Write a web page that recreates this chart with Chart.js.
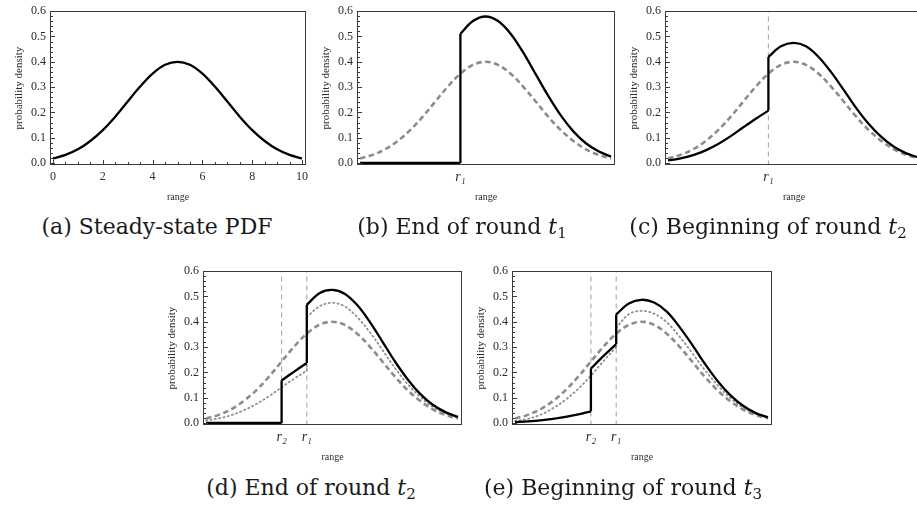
<!DOCTYPE html>
<html>
<head>
	<meta charset="utf-8">
	<title>Probability density across rounds</title>
	<script src="https://cdn.jsdelivr.net/npm/chart.js@4.4.1/dist/chart.umd.min.js"></script>
	<style type="text/css">
	body{
		margin: 0;
		width: 917px;
		height: 507px;
		overflow: hidden;
		position: relative;
		background-color: #fff;
	}
	canvas{
		position: absolute;
	}
	.caption{
		position: absolute;
		transform: translateX(-50%);
		font-family: "DejaVu Serif", "Liberation Serif", serif;
		font-size: 22px;
		line-height: 24px;
		color: #1a1a1a;
		white-space: nowrap;
	}
	.caption sub{
		font-size: 15px;
		vertical-align: -4px;
		line-height: 0;
	}
	</style>
</head>
<body>
	<canvas id="pa" width="316" height="210" style="left:0px;top:0px"></canvas>
	<canvas id="pb" width="318" height="210" style="left:307px;top:0px"></canvas>
	<canvas id="pc" width="318" height="210" style="left:615px;top:0px"></canvas>
	<canvas id="pd" width="319" height="210" style="left:153px;top:260px"></canvas>
	<canvas id="pe" width="320" height="210" style="left:462px;top:260px"></canvas>

	<div class="caption" style="left:157px;top:215px">(a) Steady-state PDF</div>
	<div class="caption" style="left:462px;top:215px">(b) End of round <i>t</i><sub>1</sub></div>
	<div class="caption" style="left:768px;top:215px">(c) Beginning of round <i>t</i><sub>2</sub></div>
	<div class="caption" style="left:311px;top:476px">(d) End of round <i>t</i><sub>2</sub></div>
	<div class="caption" style="left:623px;top:476px">(e) Beginning of round <i>t</i><sub>3</sub></div>

	<script type="text/javascript">
	// --- data ---
	var range = [0, 0.5, 1, 1.5, 2, 2.5, 3, 3.5, 4, 4.5, 5, 5.5, 6, 6.5, 7, 7.5, 8, 8.5, 9, 9.5, 10];
	var steadyState = [0.018, 0.032, 0.054, 0.087, 0.130, 0.183, 0.243, 0.302, 0.353, 0.388, 0.400,
		0.388, 0.353, 0.302, 0.243, 0.183, 0.130, 0.087, 0.054, 0.032, 0.018];

	var r1 = 4;
	var r2 = 3;

	// [range, density]; a repeated range value is a jump
	var endT1 = [[0, 0], [4, 0], [4, 0.511], [4.5, 0.561], [5, 0.579], [5.5, 0.561], [6, 0.511], [6.5, 0.437],
		[7, 0.351], [7.5, 0.265], [8, 0.188], [8.5, 0.125], [9, 0.078], [9.5, 0.046], [10, 0.025]];

	var beginT2 = [[0, 0.010], [0.5, 0.018], [1, 0.031], [1.5, 0.050], [2, 0.075], [2.5, 0.106], [3, 0.141],
		[3.5, 0.175], [4, 0.207], [4, 0.419], [4.5, 0.461], [5, 0.475], [5.5, 0.461], [6, 0.419], [6.5, 0.359],
		[7, 0.289], [7.5, 0.217], [8, 0.154], [8.5, 0.103], [9, 0.064], [9.5, 0.038], [10, 0.021]];

	var endT2 = [[0, 0], [3, 0], [3, 0.168], [3.5, 0.203], [4, 0.237], [4, 0.467], [4.5, 0.513], [5, 0.526],
		[5.5, 0.511], [6, 0.466], [6.5, 0.400], [7, 0.322], [7.5, 0.243], [8, 0.173], [8.5, 0.115], [9, 0.072],
		[9.5, 0.043], [10, 0.024]];

	var beginT3Ref = [[0, 0.008], [0.5, 0.016], [1, 0.032], [1.5, 0.058], [2, 0.092], [2.5, 0.135], [3, 0.187],
		[3.5, 0.245], [4, 0.300], [4, 0.376], [4.5, 0.430], [5, 0.443], [5.5, 0.432], [6, 0.398], [6.5, 0.342],
		[7, 0.277], [7.5, 0.210], [8, 0.150], [8.5, 0.100], [9, 0.062], [9.5, 0.036], [10, 0.020]];

	var beginT3 = [[0, 0.003], [0.5, 0.006], [1, 0.010], [1.5, 0.016], [2, 0.024], [2.5, 0.034], [3, 0.046],
		[3, 0.215], [3.5, 0.265], [4, 0.312], [4, 0.429], [4.5, 0.472], [5, 0.487], [5.5, 0.476], [6, 0.440],
		[6.5, 0.380], [7, 0.310], [7.5, 0.235], [8, 0.167], [8.5, 0.111], [9, 0.069], [9.5, 0.040], [10, 0.022]];

	var yTicks = [0, 0.1, 0.2, 0.3, 0.4, 0.5, 0.6];
	var yTickLabels = ['0.0', '0.1', '0.2', '0.3', '0.4', '0.5', '0.6'];
	var xTicksA = [0, 2, 4, 6, 8, 10];
	var xTickLabelsA = ['0', '2', '4', '6', '8', '10'];

	// --- styles ---
	var styles = {
		solid:  { color: '#000', width: 2.3, dash: [], order: 0 },
		dotted: { color: '#8e8e8e', width: 1.8, dash: [1.2, 3.2], order: 1 },
		dashed: { color: '#8c8c8c', width: 2.6, dash: [5.5, 3.5], order: 2 },
		rline:  { color: '#a8a8a8', width: 1.1, dash: [5, 4], order: 3 }
	};
	var serif = "'Liberation Serif', 'DejaVu Serif', serif";

	function zip(xs, ys){
		var out = [];
		for (var i = 0; i < xs.length; i++) out.push([xs[i], ys[i]]);
		return out;
	}

	// split a curve at its jumps so the smooth parts can be curved and the jumps stay straight
	function pieces(points){
		var out = [], cur = [points[0]];
		for (var i = 1; i < points.length; i++){
			var p = points[i], q = points[i - 1];
			if (p[0] === q[0]){
				out.push({ pts: cur, tension: 0.35 });
				out.push({ pts: [q, p], tension: 0 });
				cur = [p];
			} else {
				cur.push(p);
			}
		}
		out.push({ pts: cur, tension: 0.35 });
		return out;
	}

	function datasetsFor(curves){
		var ds = [];
		curves.forEach(function(c){
			var st = styles[c.style];
			var parts = c.style === 'rline' ? [{ pts: c.points, tension: 0 }] : pieces(c.points);
			parts.forEach(function(part){
				ds.push({
					data: part.pts.map(function(p){ return { x: p[0], y: p[1] }; }),
					borderColor: st.color,
					borderWidth: st.width,
					borderDash: st.dash,
					borderCapStyle: c.style === 'dotted' ? 'round' : 'butt',
					tension: part.tension,
					pointRadius: 0,
					fill: false,
					order: st.order
				});
			});
		});
		return ds;
	}

	// frame with inward ticks like the original plots
	var framePlugin = {
		id: 'frame',
		afterDatasetsDraw: function(chart, args, opts){
			var ctx = chart.ctx, a = chart.chartArea;
			var xs = chart.scales.x, ys = chart.scales.y;
			ctx.save();
			ctx.strokeStyle = '#3a3a3a';
			ctx.lineWidth = 1;
			ctx.setLineDash([]);
			ctx.strokeRect(Math.round(a.left) + 0.5, Math.round(a.top) + 0.5,
				Math.round(a.right - a.left) - 1, Math.round(a.bottom - a.top) - 1);
			ctx.beginPath();
			for (var i = 0; i < yTicks.length; i++){
				var y = Math.round(ys.getPixelForValue(yTicks[i])) + 0.5;
				ctx.moveTo(a.left, y); ctx.lineTo(a.left + 5, y);
				if (i < yTicks.length - 1){
					for (var k = 1; k < 5; k++){
						var v = yTicks[i] + (yTicks[i + 1] - yTicks[i]) * k / 5;
						var ym = Math.round(ys.getPixelForValue(v)) + 0.5;
						ctx.moveTo(a.left, ym); ctx.lineTo(a.left + 3, ym);
					}
				}
			}
			if (opts.xMajor){
				var xm = opts.xMajor;
				for (var j = 0; j < xm.length; j++){
					var x = Math.round(xs.getPixelForValue(xm[j])) + 0.5;
					ctx.moveTo(x, a.bottom); ctx.lineTo(x, a.bottom - 5);
					if (j < xm.length - 1){
						for (var m = 1; m < 4; m++){
							var xv = xm[j] + (xm[j + 1] - xm[j]) * m / 4;
							var xp = Math.round(xs.getPixelForValue(xv)) + 0.5;
							ctx.moveTo(xp, a.bottom); ctx.lineTo(xp, a.bottom - 3);
						}
					}
				}
			}
			ctx.stroke();
			ctx.restore();
		}
	};

	function makePanel(id, curves, xTicks, xLabels, italic, xMajor){
		return new Chart(document.getElementById(id), {
			type: 'line',
			data: { datasets: datasetsFor(curves) },
			options: {
				responsive: false,
				animation: false,
				events: [],
				layout: { padding: { top: 5, right: 10, left: 0, bottom: 0 } },
				plugins: {
					legend: { display: false },
					tooltip: { enabled: false },
					frame: { xMajor: xMajor }
				},
				scales: {
					x: {
						type: 'linear',
						min: -0.12,
						max: 10.16,
						afterBuildTicks: function(s){ s.ticks = xTicks.map(function(v){ return { value: v }; }); },
						afterFit: function(s){ s.height = 45; },
						grid: { display: false, drawTicks: false },
						border: { display: false },
						ticks: {
							autoSkip: false,
							maxRotation: 0,
							padding: italic ? 4 : 5,
							color: '#2b2b2b',
							font: { family: serif, size: italic ? 14 : 12, style: italic ? 'italic' : 'normal' },
							callback: function(v, i){ return xLabels[i]; }
						},
						title: {
							display: true,
							text: 'range',
							color: '#2b2b2b',
							font: { family: serif, size: 10 },
							padding: { top: 0, bottom: 7 }
						}
					},
					y: {
						min: -0.008,
						max: 0.6,
						afterBuildTicks: function(s){ s.ticks = yTicks.map(function(v){ return { value: v }; }); },
						afterFit: function(s){ s.width = 50; },
						grid: { display: false, drawTicks: false },
						border: { display: false },
						ticks: {
							padding: 4,
							color: '#2b2b2b',
							font: { family: serif, size: 12 },
							callback: function(v, i){ return yTickLabels[i]; }
						},
						title: {
							display: true,
							text: 'probability density',
							color: '#2b2b2b',
							font: { family: serif, size: 11 },
							padding: { top: 13, bottom: 0 }
						}
					}
				}
			},
			plugins: [framePlugin]
		});
	}

	var steadyCurve = zip(range, steadyState);
	var r1Line = [[r1, -0.01], [r1, 0.61]];
	var r2Line = [[r2, -0.01], [r2, 0.61]];

	makePanel('pa', [
		{ points: steadyCurve, style: 'solid' }
	], xTicksA, xTickLabelsA, false, xTicksA);

	makePanel('pb', [
		{ points: steadyCurve, style: 'dashed' },
		{ points: endT1, style: 'solid' }
	], [r1], ['r\u2081'], true, null);

	makePanel('pc', [
		{ points: r1Line, style: 'rline' },
		{ points: steadyCurve, style: 'dashed' },
		{ points: beginT2, style: 'solid' }
	], [r1], ['r\u2081'], true, null);

	makePanel('pd', [
		{ points: r1Line, style: 'rline' },
		{ points: r2Line, style: 'rline' },
		{ points: steadyCurve, style: 'dashed' },
		{ points: beginT2, style: 'dotted' },
		{ points: endT2, style: 'solid' }
	], [r2, r1], ['r\u2082', 'r\u2081'], true, null);

	makePanel('pe', [
		{ points: r1Line, style: 'rline' },
		{ points: r2Line, style: 'rline' },
		{ points: steadyCurve, style: 'dashed' },
		{ points: beginT3Ref, style: 'dotted' },
		{ points: beginT3, style: 'solid' }
	], [r2, r1], ['r\u2082', 'r\u2081'], true, null);
	</script>
</body>
</html>
